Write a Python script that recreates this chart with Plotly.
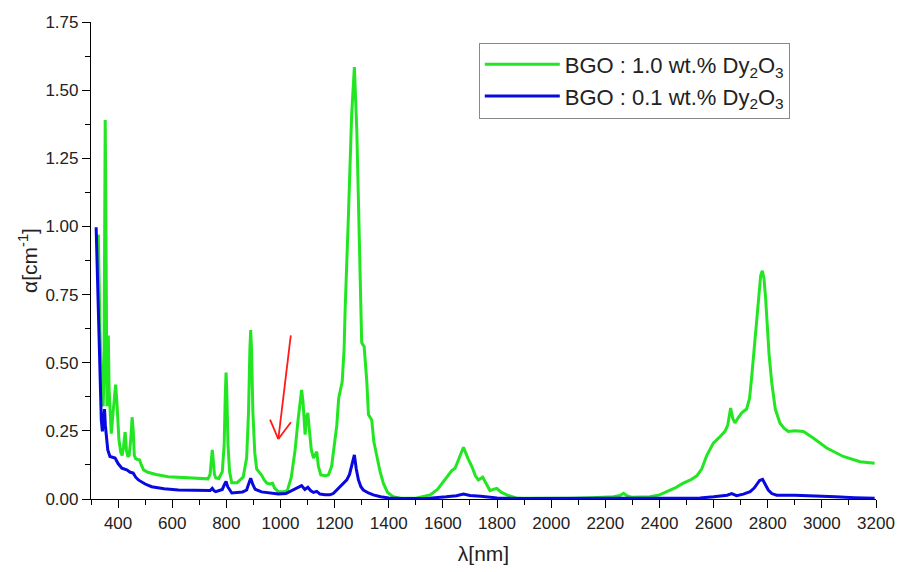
import math
import plotly.graph_objects as go

# Wavelength (nm) and absorption coefficient (cm^-1)
green_x = [327, 333, 340, 345, 348, 351, 352.5, 354, 357, 359, 362, 364, 367, 372, 375, 380, 386, 391, 396,
           403, 410, 415, 420, 426, 431, 436, 441, 447, 452, 456, 460, 465, 472, 479, 486, 494, 510, 540,
           585, 650, 700, 732, 740, 745, 748, 751, 756, 761, 772, 785, 792, 796, 799, 802, 806, 812, 820,
           840, 862, 875, 882, 887, 890, 893, 898, 905, 912, 920, 930, 940, 950, 960, 971, 978, 992, 1010,
           1025, 1040, 1054, 1065, 1073, 1078, 1083, 1088, 1091, 1096, 1101, 1106, 1114, 1122, 1130, 1134,
           1140, 1149, 1165, 1177, 1189, 1200, 1208, 1215, 1222, 1228, 1235, 1239, 1251, 1263, 1273, 1282,
           1292, 1300, 1305, 1309, 1319, 1325, 1331, 1337, 1345, 1356, 1368, 1380, 1395, 1417, 1442, 1500,
           1553, 1580, 1602, 1620, 1633, 1645, 1660, 1676, 1692, 1707, 1720, 1731, 1747, 1760, 1774, 1788,
           1799, 1815, 1836, 1873, 1950, 2070, 2150, 2230, 2255, 2267, 2280, 2298, 2365, 2400, 2427, 2460,
           2488, 2515, 2538, 2556, 2575, 2599, 2620, 2642, 2652, 2663, 2671, 2679, 2692, 2704, 2722, 2733,
           2741, 2750, 2759, 2768, 2774, 2780, 2786, 2792, 2796, 2805, 2815, 2828, 2845, 2860, 2876, 2900,
           2932, 2968, 3018, 3079, 3141, 3170, 3195]
green_y = [0.97, 0.62, 0.40, 0.34, 0.45, 1.20, 1.39, 1.20, 0.45, 0.34, 0.45, 0.60, 0.40, 0.26, 0.24, 0.30, 0.38,
           0.42, 0.35, 0.22, 0.17, 0.16, 0.19, 0.245, 0.18, 0.155, 0.16, 0.22, 0.30, 0.25, 0.16, 0.148, 0.145,
           0.144, 0.125, 0.107, 0.098, 0.090, 0.082, 0.078, 0.075, 0.074, 0.09, 0.15, 0.18, 0.15, 0.09, 0.077,
           0.075, 0.10, 0.20, 0.38, 0.464, 0.38, 0.20, 0.10, 0.06, 0.06, 0.08, 0.15, 0.32, 0.55, 0.62, 0.55,
           0.32, 0.17, 0.11, 0.10, 0.088, 0.07, 0.058, 0.055, 0.058, 0.04, 0.027, 0.027, 0.03, 0.08, 0.18,
           0.29, 0.37, 0.40, 0.36, 0.26, 0.236, 0.30, 0.316, 0.26, 0.18, 0.15, 0.17, 0.174, 0.12, 0.088, 0.085,
           0.088, 0.12, 0.20, 0.27, 0.37, 0.41, 0.43, 0.55, 0.70, 1.04, 1.41, 1.585, 1.35, 0.92, 0.574, 0.565,
           0.56, 0.43, 0.31, 0.30, 0.29, 0.21, 0.156, 0.10, 0.058, 0.025, 0.008, 0.003, 0.003, 0.015, 0.035,
           0.064, 0.09, 0.104, 0.113, 0.15, 0.19, 0.15, 0.119, 0.085, 0.07, 0.08, 0.055, 0.031, 0.036, 0.039,
           0.025, 0.015, 0.003, 0.002, 0.003, 0.005, 0.008, 0.013, 0.021, 0.012, 0.006, 0.008, 0.015, 0.027,
           0.042, 0.058, 0.07, 0.085, 0.11, 0.16, 0.205, 0.225, 0.248, 0.27, 0.334, 0.295, 0.279, 0.30, 0.316,
           0.33, 0.37, 0.45, 0.55, 0.672, 0.76, 0.82, 0.837, 0.81, 0.74, 0.672, 0.53, 0.426, 0.33, 0.279, 0.26,
           0.248, 0.25, 0.248, 0.224, 0.187, 0.156, 0.137, 0.135, 0.131]

blue_x = [319, 324, 329, 334, 338, 342, 346, 350, 353, 356, 362, 370, 380, 389, 400, 414, 432, 445, 456, 465,
          475, 500, 524, 570, 623, 700, 740, 748, 755, 761, 785, 794, 799, 805, 820, 860, 875, 884, 890, 897,
          906, 930, 960, 992, 1020, 1040, 1060, 1078, 1090, 1101, 1112, 1122, 1134, 1146, 1165, 1183, 1195,
          1208, 1220, 1232, 1245, 1255, 1265, 1273, 1280, 1288, 1297, 1306, 1325, 1343, 1370, 1400, 1450,
          1550, 1612, 1650, 1676, 1700, 1740, 1800, 1900, 2200, 2400, 2550, 2600, 2624, 2650, 2667, 2685,
          2710, 2735, 2750, 2759, 2770, 2781, 2792, 2802, 2815, 2833, 2900, 2980, 3050, 3120, 3195]
blue_y = [0.997, 0.80, 0.55, 0.365, 0.29, 0.248, 0.30, 0.33, 0.27, 0.242, 0.18, 0.156, 0.152, 0.15, 0.13,
          0.113, 0.107, 0.098, 0.095, 0.08, 0.07, 0.055, 0.045, 0.038, 0.033, 0.030, 0.031, 0.039, 0.030,
          0.027, 0.035, 0.055, 0.064, 0.045, 0.022, 0.026, 0.033, 0.06, 0.076, 0.055, 0.036, 0.026, 0.022,
          0.018, 0.02, 0.03, 0.04, 0.049, 0.035, 0.043, 0.03, 0.024, 0.028, 0.018, 0.016, 0.016, 0.02, 0.033,
          0.045, 0.058, 0.07, 0.09, 0.13, 0.162, 0.11, 0.07, 0.045, 0.033, 0.022, 0.015, 0.008, 0.004, 0.002,
          0.003, 0.008, 0.012, 0.018, 0.013, 0.01, 0.004, 0.002, 0.002, 0.002, 0.004, 0.008, 0.011, 0.014,
          0.02, 0.012, 0.018, 0.027, 0.04, 0.052, 0.068, 0.072, 0.05, 0.033, 0.02, 0.014, 0.014, 0.012, 0.008,
          0.005, 0.003]

series_names = ["BGO : 1.0 wt.% Dy<sub>2</sub>O<sub>3</sub>", "BGO : 0.1 wt.% Dy<sub>2</sub>O<sub>3</sub>"]
x_ticks = list(range(400, 3201, 200))
y_ticks = [0.0, 0.25, 0.5, 0.75, 1.0, 1.25, 1.5, 1.75]
x_range = [300, 3200]
y_range = [0, 1.75]

# red arrow (tail -> tip) in data units
arrow_tail = (1038, 0.60)
arrow_tip = (992, 0.22)

FONT = "Liberation Sans, Arial, sans-serif"
W, H = 897, 572
M = dict(l=91, r=21, t=22, b=73)

fig = go.Figure()
fig.add_trace(go.Scatter(x=green_x, y=green_y, mode="lines", name=series_names[0],
                         line=dict(color="#22e622", width=3)))
fig.add_trace(go.Scatter(x=blue_x, y=blue_y, mode="lines", name=series_names[1],
                         line=dict(color="#0808e0", width=3)))

# arrow: shaft plus two thin open-V wings computed in pixel space
sx = (W - M["l"] - M["r"]) / (x_range[1] - x_range[0])
sy = (H - M["t"] - M["b"]) / (y_range[1] - y_range[0])
dx = (arrow_tail[0] - arrow_tip[0]) * sx
dy = (arrow_tail[1] - arrow_tip[1]) * sy
ang = math.atan2(dy, dx)
red = dict(color="#ff1a1a", width=1.8)
fig.add_shape(type="line", x0=arrow_tail[0], y0=arrow_tail[1], x1=arrow_tip[0], y1=arrow_tip[1],
              xref="x", yref="y", line=red)
for s in (-1, 1):
    a = ang + s * math.radians(30)
    wl = 21
    fig.add_shape(type="line", x0=arrow_tip[0], y0=arrow_tip[1],
                  x1=arrow_tip[0] + wl * math.cos(a) / sx, y1=arrow_tip[1] + wl * math.sin(a) / sy,
                  xref="x", yref="y", line=red)

fig.update_layout(
    width=W, height=H,
    margin=M,
    plot_bgcolor="white", paper_bgcolor="white",
    font=dict(family=FONT, size=17, color="#222"),
    showlegend=True,
    legend=dict(x=0.494, y=0.957, xanchor="left", yanchor="top",
                bordercolor="#888", borderwidth=1, bgcolor="white",
                font=dict(family=FONT, size=22, color="#222"),
                itemwidth=75, tracegroupgap=2),
    xaxis=dict(range=x_range, tickvals=x_ticks, ticks="outside", ticklen=8, tickwidth=1.2,
               tickcolor="black", showline=True, linecolor="black", linewidth=1.2, showgrid=False,
               zeroline=False, tickfont=dict(size=17), automargin=False,
               minor=dict(dtick=100, tick0=0, ticks="outside", ticklen=5, tickwidth=1.2, tickcolor="black"),
               title=dict(text="λ[nm]", font=dict(size=21), standoff=14)),
    yaxis=dict(range=y_range, tickvals=y_ticks, tickformat=".2f", ticks="outside", ticklen=8,
               tickwidth=1.2, tickcolor="black", showline=True, linecolor="black", linewidth=1.2,
               showgrid=False, zeroline=False, tickfont=dict(size=17), automargin=False,
               minor=dict(dtick=0.125, tick0=0, ticks="outside", ticklen=5, tickwidth=1.2, tickcolor="black"),
               title=dict(text="α[cm<sup>-1</sup>]", font=dict(size=21), standoff=2)),
)

fig.write_html("out.html")
